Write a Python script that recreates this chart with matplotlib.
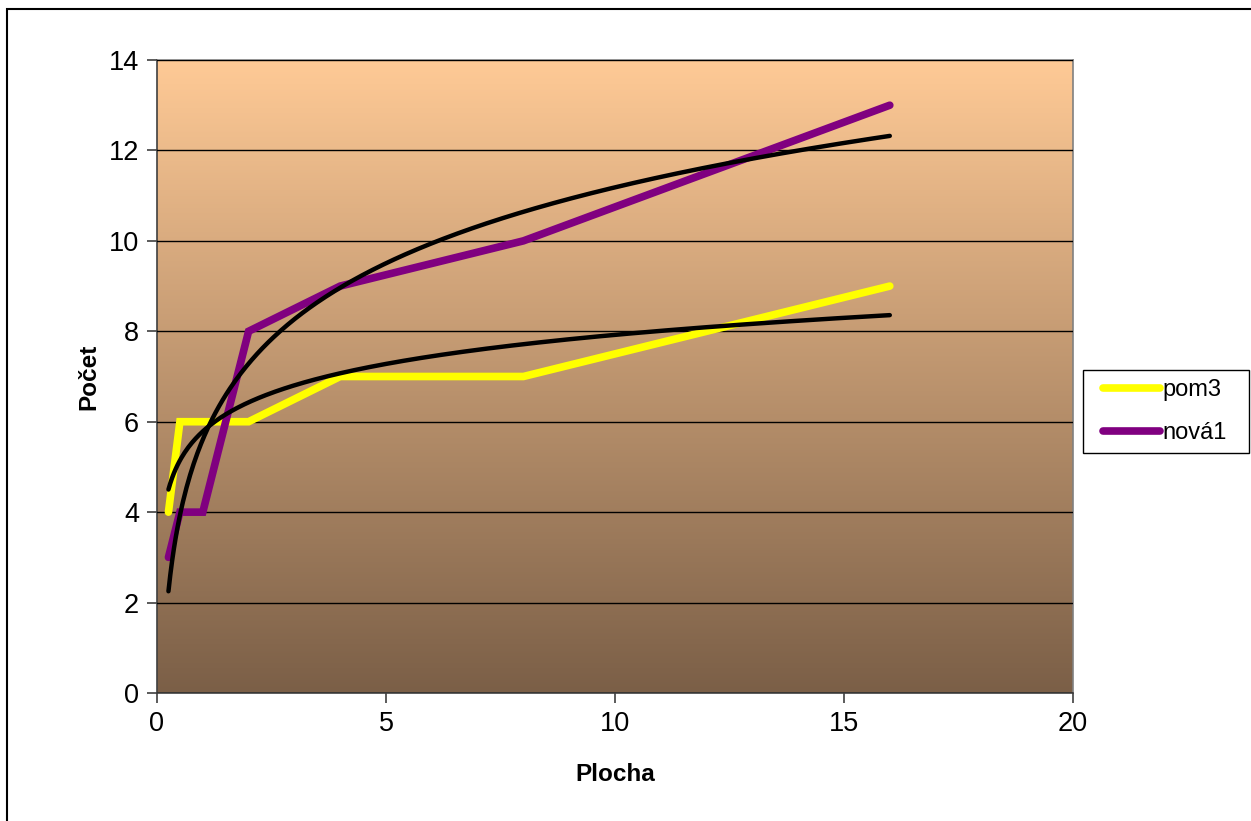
import numpy as np
import matplotlib
matplotlib.use("Agg")
import matplotlib.pyplot as plt
from matplotlib.colors import LinearSegmentedColormap
from matplotlib.patches import Rectangle

plt.rcParams['font.family'] = ['Liberation Sans', 'DejaVu Sans']

# Data
plocha = [0.25, 0.5, 1, 2, 4, 8, 16]
pom3 = [4, 6, 6, 6, 7, 7, 9]
nova1 = [3, 4, 4, 8, 9, 10, 13]
series_names = ["pom3", "nová1"]
x_ticks = [0, 5, 10, 15, 20]
y_ticks = [0, 2, 4, 6, 8, 10, 12, 14]

W, H = 1251, 821
fig = plt.figure(figsize=(W / 100, H / 100), dpi=100)
ax = fig.add_axes([157 / W, 1 - 693 / H, (1073 - 157) / W, (693 - 60) / H])

# Vertical gradient background of the plot area
cmap = LinearSegmentedColormap.from_list("bg", ["#7B5F47", "#FFCA96"])
grad = np.linspace(0, 1, 256).reshape(-1, 1)
ax.imshow(grad, cmap=cmap, origin="lower", aspect="auto",
          extent=[0, 1, 0, 1], transform=ax.transAxes, zorder=0)

ax.set_xlim(0, 20)
ax.set_ylim(0, 14)
ax.set_xticks(x_ticks)
ax.set_yticks(y_ticks)
ax.yaxis.grid(True, color="black", linewidth=1.0, zorder=1)
ax.set_axisbelow(False)
for t in ax.get_ygridlines():
    t.set_zorder(1)

ax.plot(plocha, pom3, color="#FFFF00", linewidth=5.5, solid_capstyle="round",
        solid_joinstyle="miter", label=series_names[0], zorder=3)
ax.plot(plocha, nova1, color="#800080", linewidth=5.5, solid_capstyle="round",
        solid_joinstyle="miter", label=series_names[1], zorder=3)

# Logarithmic trend lines (least squares on ln x)
xs = np.linspace(min(plocha), max(plocha), 400)
for ys in (pom3, nova1):
    a, b = np.polyfit(np.log(plocha), ys, 1)
    ax.plot(xs, a * np.log(xs) + b, color="black", linewidth=3.2,
            solid_capstyle="round", zorder=4)

for s in ax.spines.values():
    s.set_color("#808080")
    s.set_linewidth(1.2)
ax.spines["left"].set_color("#404040")
ax.spines["bottom"].set_color("#404040")

ax.tick_params(axis="both", direction="out", length=7, width=1.2,
               color="#404040", labelsize=19.5, pad=6)
ax.set_xlabel("Plocha", fontsize=17.5, fontweight="bold", labelpad=19)
ax.set_ylabel("Počet", fontsize=17.5, fontweight="bold", labelpad=6)

# Legend entries with a separately drawn box
leg = fig.legend(loc="upper left", bbox_to_anchor=(1103 / W, 1 - 379 / H),
                 fontsize=17, frameon=False, handlelength=2.4,
                 handletextpad=0.12, borderpad=0, labelspacing=0.9,
                 borderaxespad=0)
for line in leg.get_lines():
    line.set_linewidth(5.5)
fig.patches.append(Rectangle((1083 / W, 1 - 453 / H), (1249 - 1083) / W,
                             (453 - 370) / H, transform=fig.transFigure,
                             fill=False, edgecolor="black", linewidth=1.0))

# Outer chart frame
fig.patches.append(Rectangle((7 / W, -0.05), 1.2, 1 - 9 / H + 0.05,
                             transform=fig.transFigure, fill=False,
                             edgecolor="black", linewidth=1.5))

fig.savefig("out.png", dpi=100)
